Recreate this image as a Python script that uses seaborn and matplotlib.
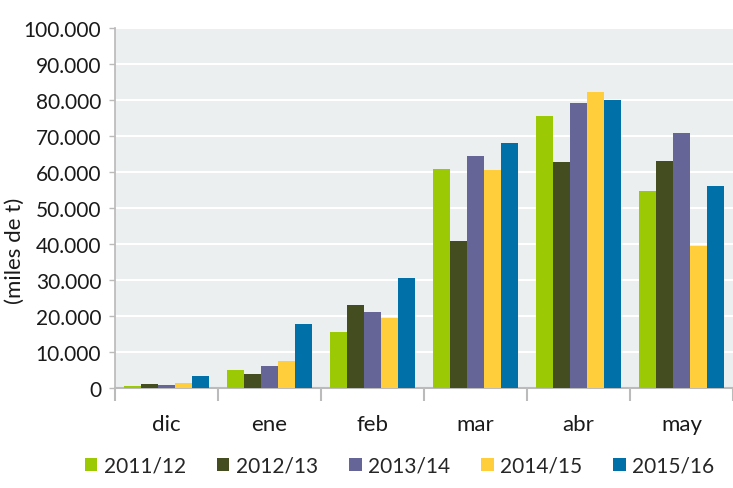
import pandas as pd
import matplotlib.pyplot as plt
from matplotlib.ticker import FuncFormatter, FixedLocator
import seaborn as sns

meses = ["dic", "ene", "feb", "mar", "abr", "may"]
campanas = ["2011/12", "2012/13", "2013/14", "2014/15", "2015/16"]

v_2011 = [500, 4900, 15500, 60900, 75600, 54700]
v_2012 = [1000, 4000, 23000, 40800, 62800, 63100]
v_2013 = [700, 6000, 21000, 64500, 79200, 70900]
v_2014 = [1300, 7400, 19400, 60600, 82300, 39400]
v_2015 = [3200, 17700, 30500, 68100, 80100, 56100]

colores = ["#9BC904", "#444D1F", "#656598", "#FFCE3A", "#0070A8"]

rows = []
for camp, vals in zip(campanas, [v_2011, v_2012, v_2013, v_2014, v_2015]):
    for m, v in zip(meses, vals):
        rows.append({"mes": m, "campana": camp, "valor": v})
df = pd.DataFrame(rows)

sns.set_theme(style="white")
plt.rcParams['font.family'] = ['Lato', 'DejaVu Sans']

fig = plt.figure(figsize=(7.33, 4.89), dpi=100)
ax = fig.add_axes([0.157, 0.2045, 0.843, 0.736])
ax.set_facecolor("#EBEFF0")

sns.barplot(data=df, x="mes", y="valor", hue="campana", order=meses,
            hue_order=campanas, palette=colores, width=0.83, saturation=1,
            linewidth=0, edgecolor="none", ax=ax, zorder=3)

ax.set_ylim(0, 100000)
ax.set_xlim(-0.5, 5.5)
ax.set_yticks(range(0, 100001, 10000))
ax.yaxis.set_major_formatter(FuncFormatter(lambda v, p: f"{int(v):,}".replace(",", ".")))
ax.yaxis.grid(True, color="white", linewidth=1.5, zorder=0)
ax.set_axisbelow(True)

# ticks between the month groups
ax.xaxis.set_minor_locator(FixedLocator([i - 0.5 for i in range(7)]))
ax.tick_params(axis="x", which="both", bottom=True)
ax.tick_params(axis="x", which="major", length=0, labelsize=16, pad=19, colors="#1a1a1a")
ax.tick_params(axis="x", which="minor", length=9, width=1.5, color="#BBBBBB", direction="out")
ax.tick_params(axis="y", length=4, width=1, color="#BBBBBB", labelsize=15, pad=6,
               labelcolor="#1a1a1a", left=True)

for s in ["top", "right"]:
    ax.spines[s].set_visible(False)
ax.spines["left"].set_color("#BBBBBB")
ax.spines["bottom"].set_color("#BBBBBB")
ax.spines["bottom"].set_linewidth(1.5)

ax.set_xlabel("")
ax.set_ylabel("")
fig.text(0.02, 0.487, "(miles de t)", rotation=90, fontsize=16, color="#1a1a1a",
         ha="center", va="center")

handles, labels = ax.get_legend_handles_labels()
ax.legend_.remove()
fig.legend(handles, labels, loc="center", bbox_to_anchor=(0.545, 0.045),
           ncol=5, frameon=False, fontsize=15, handlelength=0.6, handleheight=0.6,
           handletextpad=0.3, columnspacing=1.5)

fig.savefig("out.png", dpi=100)
